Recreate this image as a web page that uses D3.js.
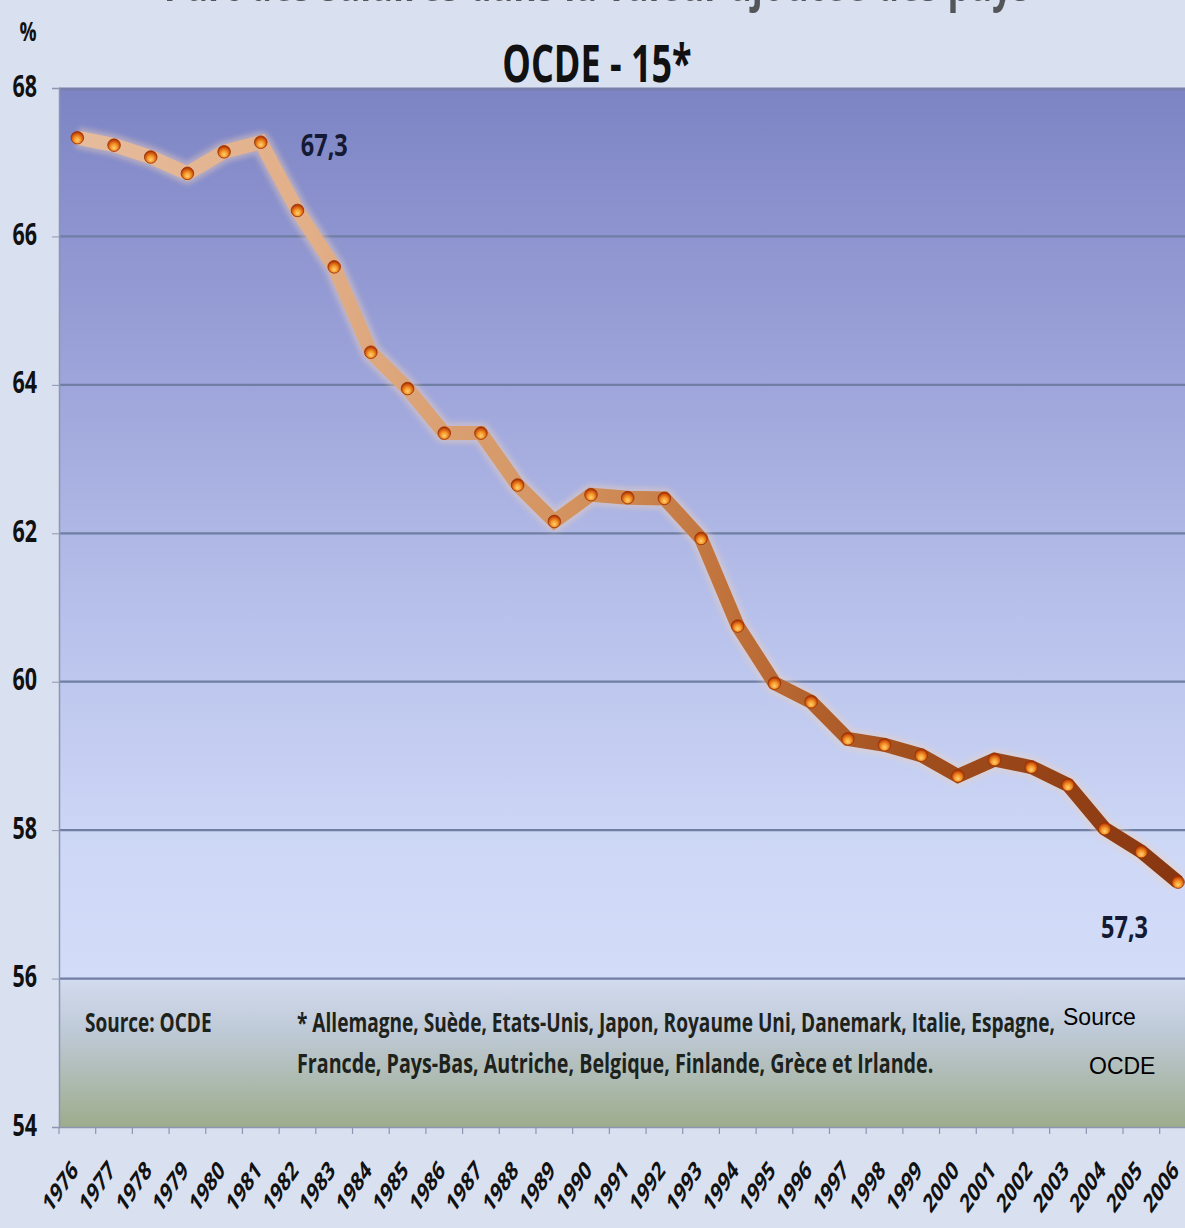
<!DOCTYPE html>
<html><head><meta charset="utf-8">
<script src="https://cdn.jsdelivr.net/npm/d3@7"></script>
<style>
html,body{margin:0;padding:0;background:#d9e1f1;overflow:hidden}
svg{display:block}
.cond{font-family:'Open Sans',sans-serif;font-weight:bold}
</style></head><body>
<svg id="chart" width="1185" height="1228"></svg>
<script>
const years = ["1976","1977","1978","1979","1980","1981","1982","1983","1984","1985","1986","1987","1988","1989","1990","1991","1992","1993","1994","1995","1996","1997","1998","1999","2000","2001","2002","2003","2004","2005","2006"];
const share = [67.33,67.23,67.07,66.85,67.14,67.27,66.35,65.59,64.44,63.95,63.35,63.35,62.65,62.16,62.52,62.48,62.47,61.93,60.75,59.98,59.73,59.23,59.15,59.01,58.73,58.95,58.85,58.61,58.02,57.71,57.30];
const yTicks = [54,56,58,60,62,64,66,68];
const valueLabels = [{year:"1981", text:"67,3"},{year:"2006", text:"57,3"}];
const titleText = "OCDE - 15*";
const titleCut = "Part des salaires dans la valeur ajoutée des pays";
const footSource = "Source: OCDE";
const footNote1 = "* Allemagne, Suède, Etats-Unis, Japon, Royaume Uni, Danemark, Italie, Espagne,";
const footNote2 = "Francde, Pays-Bas, Autriche, Belgique, Finlande, Grèce et Irlande.";

const svg = d3.select("#chart");
const pLeft = 59, pTop = 88, pBottom = 1127, step = 36.69;
const x = d3.scaleBand().domain(years).range([pLeft, pLeft + step*years.length]).padding(0);
const y = d3.scaleLinear().domain([54,68]).range([pBottom, pTop]);
const xc = d => x(d) + x.bandwidth()/2;

// text drawn tall and narrow (the source picture is stretched vertically)
function tallText(parent, tx, ty, str, size, k, anchor, fill, cls){
  return parent.append("text").attr("class", cls===undefined ? "cond" : cls)
    .attr("transform", `translate(${tx},${ty}) scale(1,${k})`)
    .attr("text-anchor", anchor || "start").attr("font-size", size)
    .attr("fill", fill || "#111").text(str);
}

const defs = svg.append("defs");
const bg = defs.append("linearGradient").attr("id","plotbg").attr("x1",0).attr("y1",0).attr("x2",0).attr("y2",1);
[[0,"#7d84c4"],[0.25,"#9aa1d8"],[0.5,"#b7c0ea"],[0.75,"#cfd9f7"],[1,"#d7e1fb"]].forEach(s=>bg.append("stop").attr("offset",s[0]).attr("stop-color",s[1]));
const fb = defs.append("linearGradient").attr("id","footbg").attr("x1",0).attr("y1",0).attr("x2",0).attr("y2",1);
[[0,"#d3dbee"],[0.35,"#bfcad8"],[1,"#9dac8c"]].forEach(s=>fb.append("stop").attr("offset",s[0]).attr("stop-color",s[1]));
const lg = defs.append("linearGradient").attr("id","linegrad").attr("gradientUnits","userSpaceOnUse")
  .attr("x1",xc(years[0])).attr("y1",0).attr("x2",xc(years[years.length-1])).attr("y2",0);
[[0,"#e6bc9c"],[0.2,"#e2b08a"],[0.45,"#d3925e"],[0.6,"#bf7039"],[0.75,"#a3501f"],[1,"#883610"]].forEach(s=>lg.append("stop").attr("offset",s[0]).attr("stop-color",s[1]));
const mg = defs.append("radialGradient").attr("id","marker").attr("cx","50%").attr("cy","60%").attr("r","55%").attr("fx","50%").attr("fy","75%");
[[0,"#ffd277"],[0.45,"#f59a2c"],[0.8,"#d25a10"],[1,"#a83200"]].forEach(s=>mg.append("stop").attr("offset",s[0]).attr("stop-color",s[1]));
const blur = defs.append("filter").attr("id","soft").attr("x","-10%").attr("y","-10%").attr("width","120%").attr("height","120%");
blur.append("feGaussianBlur").attr("stdDeviation",2.5);

// plot background
svg.append("rect").attr("x",pLeft).attr("y",pTop).attr("width",1185-pLeft).attr("height",pBottom-pTop).attr("fill","url(#plotbg)");
svg.append("rect").attr("x",pLeft).attr("y",y(56)).attr("width",1185-pLeft).attr("height",y(54)-y(56)).attr("fill","url(#footbg)");
svg.append("line").attr("x1",pLeft).attr("x2",1185).attr("y1",pTop+1).attr("y2",pTop+1).attr("stroke","#7a80ac").attr("stroke-width",3);

// grid
svg.append("g").selectAll("line").data(yTicks.filter(t=>t>54 && t<68)).join("line")
  .attr("x1",pLeft).attr("x2",1185).attr("y1",d=>y(d)).attr("y2",d=>y(d))
  .attr("stroke","#6f7ea2").attr("stroke-width",2.2);

// axes
const yAxis = d3.axisLeft(y).tickValues(yTicks).tickSize(7).tickFormat(d3.format("d"));
const gy = svg.append("g").attr("transform",`translate(${pLeft},0)`).call(yAxis);
gy.select(".domain").attr("stroke","#8c96b0").attr("stroke-width",1.5);
gy.selectAll(".tick line").attr("stroke","#8c96b0");
gy.selectAll(".tick text").remove();
gy.selectAll(".tick").each(function(d){
  tallText(d3.select(this), -22, 8, d3.format("d")(d), 21.5, 1.45, "end");
});

const xAxis = d3.axisBottom(x).tickSize(0).tickFormat(d=>d);
const gx = svg.append("g").attr("transform",`translate(0,${pBottom})`).call(xAxis);
gx.select(".domain").attr("stroke","#8c96b0").attr("stroke-width",1.5);
gx.selectAll(".tick text").attr("class","cond").attr("font-size",18).attr("fill","#111")
  .attr("text-anchor","end").attr("y",0).attr("dy",0)
  .attr("transform","translate(2,45) scale(1,1.45) rotate(-45)");
// ticks at band edges
svg.append("g").selectAll("line").data(years).join("line")
  .attr("x1",d=>x(d)).attr("x2",d=>x(d)).attr("y1",pBottom).attr("y2",pBottom+7)
  .attr("stroke","#8c96b0").attr("stroke-width",1.2);

// line
const line = d3.line().x((d,i)=>xc(years[i])).y(d=>y(d));
svg.append("path").datum(share).attr("d",line).attr("fill","none")
  .attr("stroke","#f0d0b8").attr("stroke-opacity",0.45).attr("stroke-width",21).attr("stroke-linejoin","round").attr("filter","url(#soft)");
svg.append("path").datum(share).attr("d",line).attr("fill","none")
  .attr("stroke","url(#linegrad)").attr("stroke-width",14).attr("stroke-linejoin","miter");

// markers
svg.append("g").selectAll("circle").data(share).join("circle")
  .attr("cx",(d,i)=>xc(years[i])).attr("cy",d=>y(d)).attr("r",6.3)
  .attr("fill","url(#marker)").attr("stroke","#9a3005").attr("stroke-width",0.8);

// value labels
const vl = svg.append("g");
tallText(vl, xc("1981")+40, y(share[years.indexOf("1981")])+14, valueLabels[0].text, 23.5, 1.3, "start", "#141a33");
tallText(vl, xc("2006")-77, y(share[years.indexOf("2006")])+56, valueLabels[1].text, 23.5, 1.3, "start", "#141a33");

// titles
tallText(svg, 597, 1, titleCut, 36, 1.4, "middle", "#333").attr("opacity",0.8);
tallText(svg, 597, 82, titleText, 36, 1.42, "middle");
tallText(svg, 28, 41, "%", 19, 1.45, "middle");

// footer texts
tallText(svg, 85, 1032, footSource, 19, 1.38, "start", "#1d231c");
tallText(svg, 297, 1032, footNote1, 19.1, 1.38, "start", "#1d231c");
tallText(svg, 297, 1073, footNote2, 19.7, 1.36, "start", "#1d231c");
tallText(svg, 1063, 1025, "Source", 23, 1, "start", "#000", "").attr("font-family","'Liberation Sans',Arial,sans-serif");
tallText(svg, 1089, 1074, "OCDE", 23, 1, "start", "#000", "").attr("font-family","'Liberation Sans',Arial,sans-serif");
</script></body></html>
